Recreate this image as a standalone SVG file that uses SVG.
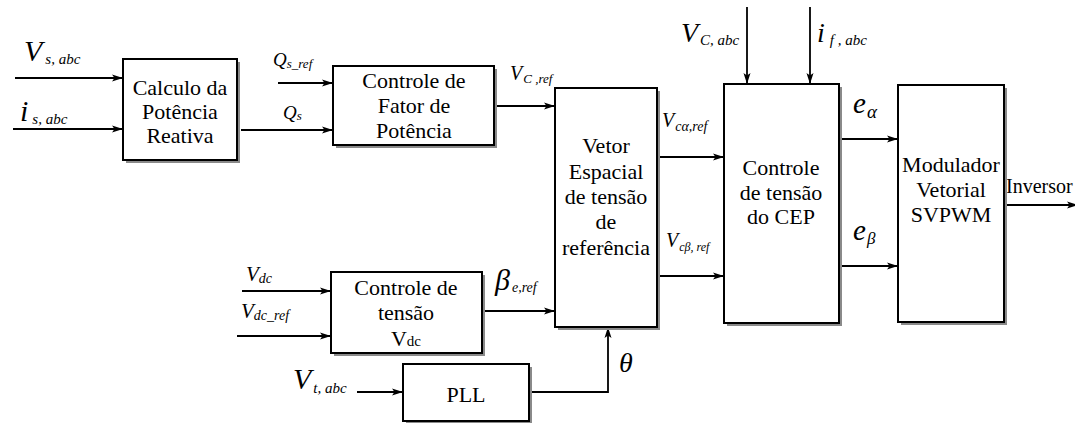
<svg xmlns="http://www.w3.org/2000/svg" width="1075" height="423" viewBox="0 0 1075 423">
<style>
.box{fill:#fff;stroke:#000;stroke-width:2}
.sh{fill:#8a8a8a}
.bt{font-family:"Liberation Serif","Times New Roman",serif;font-size:22px;fill:#000;text-anchor:middle}
.v{font-family:"Liberation Serif",serif;font-style:italic;fill:#000}
.n{font-family:"Liberation Serif",serif;fill:#000}
.c{fill:none;stroke:#000;stroke-width:1.8}
</style>
<defs>
<marker id="ah" markerUnits="userSpaceOnUse" markerWidth="12" markerHeight="8" refX="11" refY="4" orient="auto">
<path d="M0,0.5 L11,4 L0,7.5 L2.5,4 Z" fill="#000"/>
</marker>
</defs>
<rect width="1075" height="423" fill="#fff"/>

<g id="connectors">
<line class="c" x1="15" y1="78" x2="123" y2="78" marker-end="url(#ah)"/>
<line class="c" x1="13" y1="129" x2="123" y2="129" marker-end="url(#ah)"/>
<line class="c" x1="278" y1="83" x2="333" y2="83" marker-end="url(#ah)"/>
<line class="c" x1="241" y1="130" x2="333" y2="130" marker-end="url(#ah)"/>
<line class="c" x1="494" y1="106" x2="555" y2="106" marker-end="url(#ah)"/>
<line class="c" x1="657" y1="157" x2="724" y2="157" marker-end="url(#ah)"/>
<line class="c" x1="657" y1="276" x2="724" y2="276" marker-end="url(#ah)"/>
<line class="c" x1="747" y1="7" x2="747" y2="84" marker-end="url(#ah)"/>
<line class="c" x1="810" y1="7" x2="810" y2="84" marker-end="url(#ah)"/>
<line class="c" x1="839" y1="139" x2="898" y2="139" marker-end="url(#ah)"/>
<line class="c" x1="839" y1="266" x2="898" y2="266" marker-end="url(#ah)"/>
<line class="c" x1="1004" y1="205" x2="1078" y2="205" marker-end="url(#ah)"/>
<line class="c" x1="242" y1="291" x2="331" y2="291" marker-end="url(#ah)"/>
<line class="c" x1="237" y1="336" x2="331" y2="336" marker-end="url(#ah)"/>
<line class="c" x1="482" y1="311" x2="555" y2="311" marker-end="url(#ah)"/>
<line class="c" x1="357" y1="392" x2="403" y2="392" marker-end="url(#ah)"/>
<polyline class="c" points="529,392 608,392 608,327" marker-end="url(#ah)"/>
</g>

<g id="labels">
<text class="v" x="24" y="61" font-size="30">V<tspan font-size="15" dx="3" dy="3">s, abc</tspan></text>
<text class="v" x="20" y="121" font-size="30">i<tspan font-size="15" dx="4" dy="3">s, abc</tspan></text>
<text class="v" x="273" y="66" font-size="19">Q<tspan font-size="13" dy="2">s_ref</tspan></text>
<text class="v" x="283" y="119" font-size="19">Q<tspan font-size="13" dy="1">s</tspan></text>
<text class="v" x="510" y="80" font-size="20">V<tspan font-size="13" dx="1" dy="3">C ,ref</tspan></text>
<text class="v" x="662" y="127" font-size="20">V<tspan font-size="14" dx="1" dy="4">cα,ref</tspan></text>
<text class="v" x="666" y="247" font-size="20">V<tspan font-size="12" dx="1" dy="4">cβ, ref</tspan></text>
<text class="v" x="681" y="42" font-size="28">V<tspan font-size="15" dx="2" dy="3">C, abc</tspan></text>
<text class="v" x="817" y="42" font-size="28">i<tspan font-size="15" dx="5" dy="3">f , abc</tspan></text>
<text class="v" x="853" y="113" font-size="29">e<tspan font-size="19" dx="1" dy="5">α</tspan></text>
<text class="v" x="853" y="240" font-size="29">e<tspan font-size="17" dx="1" dy="4">β</tspan></text>
<text class="n" x="1006" y="193" font-size="20">Inversor</text>
<text class="v" x="246" y="281" font-size="21">V<tspan font-size="14" dy="2">dc</tspan></text>
<text class="v" x="241" y="318" font-size="21">V<tspan font-size="14" dy="2">dc_ref</tspan></text>
<text class="v" x="495" y="290" font-size="30">β<tspan font-size="14" dx="2" dy="2">e,ref</tspan></text>
<text class="v" x="293" y="389" font-size="30">V<tspan font-size="15" dx="2" dy="4">t, abc</tspan></text>
<text class="v" x="619" y="372" font-size="28">θ</text>
</g>

<g id="calculo">
<rect class="sh" x="126" y="62" width="114" height="101"/>
<rect class="box" x="123" y="59" width="114" height="101"/>
<text class="bt" x="180" y="95">Calculo da</text>
<text class="bt" x="180" y="119">Potência</text>
<text class="bt" x="180" y="143">Reativa</text>
</g>

<g id="fator">
<rect class="sh" x="336" y="69" width="161" height="79"/>
<rect class="box" x="333" y="66" width="161" height="79"/>
<text class="bt" x="414" y="88">Controle de</text>
<text class="bt" x="414" y="113">Fator de</text>
<text class="bt" x="414" y="138">Potência</text>
</g>

<g id="vetor">
<rect class="sh" x="558" y="91" width="102" height="239"/>
<rect class="box" x="555" y="88" width="102" height="239"/>
<text class="bt" x="606" y="153">Vetor</text>
<text class="bt" x="606" y="179">Espacial</text>
<text class="bt" x="606" y="204">de tensão</text>
<text class="bt" x="606" y="229">de</text>
<text class="bt" x="606" y="255">referência</text>
</g>

<g id="cep">
<rect class="sh" x="727" y="87" width="115" height="239"/>
<rect class="box" x="724" y="84" width="115" height="239"/>
<text class="bt" x="781" y="175">Controle</text>
<text class="bt" x="781" y="200">de tensão</text>
<text class="bt" x="781" y="224">do CEP</text>
</g>

<g id="svpwm">
<rect class="sh" x="901" y="88" width="106" height="237"/>
<rect class="box" x="898" y="85" width="106" height="237"/>
<text class="bt" x="951" y="172">Modulador</text>
<text class="bt" x="951" y="197">Vetorial</text>
<text class="bt" x="951" y="222">SVPWM</text>
</g>

<g id="vdc">
<rect class="sh" x="334" y="275" width="151" height="81"/>
<rect class="box" x="331" y="272" width="151" height="81"/>
<text class="bt" x="406" y="295">Controle de</text>
<text class="bt" x="406" y="320">tensão</text>
<text class="bt" x="406" y="346">V<tspan font-size="15">dc</tspan></text>
</g>

<g id="pll">
<rect class="sh" x="406" y="367" width="126" height="57"/>
<rect class="box" x="403" y="364" width="126" height="57"/>
<text class="bt" x="466" y="402">PLL</text>
</g>
</svg>
